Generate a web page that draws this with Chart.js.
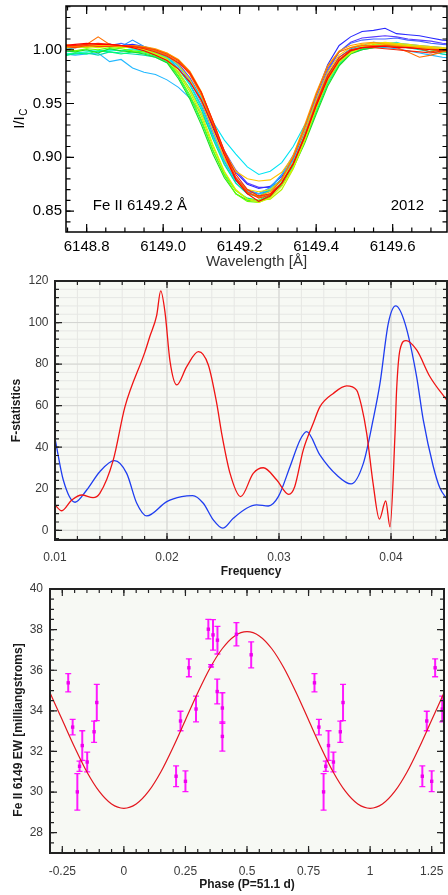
<!DOCTYPE html>
<html>
<head>
<meta charset="utf-8">
<title>Fe II 6149 profiles, periodogram and phased EW</title>
<script src="https://cdn.jsdelivr.net/npm/chart.js@4.4.1/dist/chart.umd.min.js"></script>
<style>
  html, body { margin: 0; padding: 0; background: #fff; }
  body { position: relative; width: 448px; height: 895px; overflow: hidden; }
  canvas { position: absolute; left: 0; }
  #profileChart { top: 0; }
  #periodChart { top: 272px; }
  #phaseChart { top: 580px; }
</style>
</head>
<body>
<canvas id="profileChart" width="448" height="272"></canvas>
<canvas id="periodChart" width="448" height="308"></canvas>
<canvas id="phaseChart" width="448" height="315"></canvas>
<script>
// ---------- Top: Fe II 6149.2 line profiles (2012) ----------
const wavelength = [6148.74, 6148.77, 6148.80, 6148.83, 6148.86, 6148.89, 6148.92, 6148.95, 6148.98, 6149.01,
                    6149.04, 6149.07, 6149.10, 6149.13, 6149.16, 6149.19, 6149.22, 6149.25, 6149.28, 6149.31,
                    6149.34, 6149.37, 6149.40, 6149.43, 6149.46, 6149.49, 6149.52, 6149.55, 6149.58, 6149.61,
                    6149.64, 6149.67, 6149.70, 6149.73, 6149.76];

const profileColors = ['#5a3cff', '#2a2aff', '#4262ff', '#1f90ff', '#22b8ff', '#00e4f4', '#00ffc4', '#00d8b0',
                       '#00ff72', '#22dc22', '#66ff00', '#b2f000', '#d8f000', '#f0e000', '#ffc400', '#ffa000',
                       '#ff7000', '#ff4200', '#ff2400', '#ff0000'];

const profiles = [
  [1.002,1.003,1.004,1.004,1.005,1.004,1.004,1.002,0.999,0.995, 0.987,0.974,0.955,0.930,0.906,0.888,0.876,0.872,0.872,0.879, 0.895,0.920,0.951,0.980,0.998,1.007,1.011,1.012,1.013,1.012, 1.010,1.009,1.008,1.006,1.005],
  [1.003,1.004,1.005,1.004,1.005,1.004,1.005,1.003,1.000,0.995, 0.986,0.972,0.953,0.927,0.903,0.886,0.875,0.871,0.873,0.882, 0.899,0.926,0.958,0.986,1.004,1.012,1.017,1.018,1.020,1.015, 1.014,1.013,1.011,1.009,1.008],
  [1.001,1.003,1.004,1.005,1.004,1.006,1.003,1.001,0.999,0.995, 0.985,0.971,0.951,0.924,0.899,0.881,0.870,0.866,0.869,0.880, 0.898,0.924,0.955,0.982,0.998,1.006,1.009,1.010,1.010,1.011, 1.009,1.008,1.006,1.005,1.004],
  [1.000,1.002,1.003,1.003,1.005,1.003,1.009,1.003,0.998,0.993, 0.983,0.968,0.948,0.921,0.896,0.878,0.868,0.866,0.872,0.884, 0.902,0.926,0.953,0.977,0.993,1.001,1.004,1.007,1.006,1.006, 1.005,1.004,1.003,1.002,1.000],
  [0.996,0.995,0.996,0.997,0.989,0.991,0.983,0.979,0.977,0.972, 0.965,0.955,0.941,0.920,0.897,0.879,0.869,0.866,0.871,0.884, 0.897,0.918,0.944,0.970,0.989,0.998,1.001,1.003,1.002,1.001, 0.999,0.997,0.995,0.993,0.992],
  [0.998,0.999,1.000,0.998,1.000,0.999,1.001,0.999,0.997,0.993, 0.985,0.972,0.955,0.933,0.916,0.903,0.891,0.884,0.887,0.895, 0.910,0.930,0.950,0.970,0.987,0.997,1.002,1.004,1.005,1.007, 1.004,1.001,0.998,0.996,0.994],
  [0.996,0.997,0.998,0.999,1.000,0.999,1.000,0.999,0.996,0.992, 0.982,0.967,0.946,0.919,0.894,0.876,0.866,0.863,0.869,0.878, 0.893,0.917,0.945,0.971,0.989,1.000,1.003,1.004,1.006,1.005, 1.004,1.003,1.001,0.999,0.998],
  [0.995,0.996,0.997,0.995,0.998,0.997,0.996,0.995,0.993,0.988, 0.979,0.964,0.944,0.917,0.893,0.876,0.866,0.864,0.870,0.880, 0.895,0.918,0.946,0.972,0.989,0.997,1.000,1.002,1.003,1.003, 1.002,1.000,0.998,0.996,0.995],
  [0.994,0.997,0.996,0.999,0.998,0.996,0.998,0.997,0.994,0.989, 0.975,0.956,0.933,0.906,0.884,0.869,0.862,0.860,0.866,0.876, 0.892,0.915,0.942,0.968,0.986,0.997,1.001,1.003,1.004,1.004, 1.003,1.002,1.000,0.998,0.997],
  [0.999,0.998,1.000,0.997,1.001,0.999,0.998,0.996,0.993,0.988, 0.973,0.954,0.930,0.903,0.881,0.866,0.860,0.859,0.865,0.874, 0.890,0.913,0.940,0.966,0.985,0.996,1.000,1.002,1.004,1.003, 1.002,1.002,1.001,1.000,0.999],
  [1.001,0.999,1.001,1.000,1.002,1.001,0.999,0.998,0.995,0.990, 0.976,0.958,0.935,0.907,0.883,0.866,0.859,0.858,0.863,0.876, 0.895,0.921,0.950,0.975,0.991,0.998,1.002,1.004,1.003,1.004, 1.003,1.001,1.000,0.999,0.998],
  [1.002,1.003,1.002,1.004,1.003,1.002,1.003,1.001,0.997,0.992, 0.978,0.961,0.938,0.910,0.886,0.869,0.861,0.860,0.861,0.870, 0.889,0.915,0.945,0.971,0.988,0.997,1.002,1.005,1.006,1.005, 1.004,1.002,1.001,1.000,1.000],
  [1.002,1.002,1.003,1.002,1.003,1.003,1.002,1.000,0.996,0.991, 0.980,0.963,0.941,0.912,0.887,0.870,0.861,0.858,0.862,0.873, 0.890,0.916,0.946,0.972,0.989,0.997,1.002,1.004,1.005,1.005, 1.004,1.003,1.002,1.001,1.000],
  [1.003,1.004,1.003,1.004,1.004,1.003,1.002,1.002,0.999,0.995, 0.986,0.972,0.952,0.925,0.899,0.880,0.870,0.868,0.870,0.879, 0.895,0.920,0.949,0.974,0.991,0.999,1.003,1.006,1.007,1.006, 1.005,1.004,1.003,1.002,1.001],
  [1.004,1.004,1.005,1.004,1.003,1.004,1.003,1.002,1.000,0.997, 0.990,0.977,0.957,0.931,0.905,0.887,0.880,0.878,0.879,0.886, 0.901,0.925,0.953,0.979,0.995,1.002,1.005,1.006,1.006,1.005, 1.003,1.003,1.002,1.001,1.001],
  [1.005,1.004,1.003,1.005,1.004,1.003,1.004,1.003,1.001,0.997, 0.991,0.980,0.961,0.933,0.904,0.880,0.867,0.864,0.868,0.879, 0.902,0.930,0.960,0.985,0.999,1.004,1.006,1.007,1.005,1.004, 1.003,1.002,1.001,1.000,1.000],
  [1.003,1.003,1.005,1.012,1.005,1.004,1.004,1.002,0.999,0.995, 0.989,0.977,0.958,0.931,0.903,0.880,0.867,0.863,0.866,0.880, 0.900,0.928,0.958,0.984,0.998,1.002,1.004,1.004,1.004,1.002, 0.998,0.993,0.995,0.998,0.999],
  [1.003,1.002,1.004,1.003,1.003,1.004,1.003,1.002,1.000,0.996, 0.990,0.979,0.960,0.933,0.905,0.881,0.868,0.862,0.865,0.876, 0.894,0.919,0.948,0.974,0.991,0.999,1.002,1.003,1.004,1.003, 1.002,1.001,0.998,1.000,1.001],
  [1.004,1.004,1.005,1.006,1.005,1.004,1.003,1.001,0.998,0.994, 0.988,0.978,0.960,0.934,0.906,0.884,0.870,0.864,0.866,0.876, 0.894,0.920,0.950,0.976,0.993,1.000,1.002,1.002,1.001,1.000, 0.999,0.998,0.997,0.999,1.000],
  [1.004,1.005,1.006,1.005,1.005,1.004,1.002,0.999,0.995,0.990, 0.982,0.970,0.953,0.929,0.902,0.879,0.866,0.859,0.864,0.876, 0.894,0.919,0.948,0.973,0.990,0.999,1.002,1.003,1.003,1.002, 1.002,1.001,1.000,1.000,1.000]
];

const profileXTicks = [6148.8, 6149.0, 6149.2, 6149.4, 6149.6];
const profileYTicks = [0.85, 0.90, 0.95, 1.00];
const lineName = 'Fe II 6149.2 Å';
const seasonName = '2012';

// ---------- Middle: F-statistics periodogram ----------
const redFreq = [0.0100, 0.0106, 0.0115, 0.0124, 0.0134, 0.0140, 0.0152, 0.01625, 0.01804, 0.01848,
                 0.01908, 0.01944, 0.01982, 0.02027, 0.02087, 0.02176, 0.02280, 0.02369, 0.02444, 0.02488,
                 0.02563, 0.02658, 0.02770, 0.02860, 0.02980, 0.03087, 0.03140, 0.03217, 0.03306, 0.03366,
                 0.03485, 0.03604, 0.03693, 0.03738, 0.03783, 0.03840, 0.03896, 0.03953, 0.03991, 0.04036,
                 0.04050, 0.04080, 0.04134, 0.04229, 0.04348, 0.04500];
const redF = [12.2, 9.4, 14.6, 17.0, 15.7, 17.8, 33.8, 59.5, 86.0, 93.5,
              103.5, 115.2, 105.0, 81.3, 70.0, 78.8, 86.0, 79.6, 61.1, 46.7,
              27.4, 16.2, 27.4, 30.1, 24.2, 17.3, 21.0, 38.7, 51.5, 59.5,
              65.9, 69.5, 67.5, 59.5, 46.7, 22.6, 5.4, 14.1, 1.7, 46.7,
              67.5, 86.8, 91.3, 86.8, 73.9, 62.5];

const blueFreq = [0.0100, 0.01074, 0.01179, 0.01283, 0.0140, 0.0153, 0.0164, 0.0173, 0.01819, 0.01998,
                  0.02131, 0.02229, 0.02324, 0.02413, 0.02497, 0.02592, 0.02711, 0.0280, 0.02904, 0.02994,
                  0.03098, 0.03188, 0.03247, 0.03366, 0.03515, 0.03643, 0.03753, 0.0384, 0.03902, 0.03976,
                  0.04042, 0.04125, 0.04229, 0.04288, 0.04378, 0.04438, 0.04500];
const blueF = [44.3, 24.2, 13.5, 19.4, 28.2, 33.5, 27.4, 13.0, 6.9, 13.8,
               16.2, 16.7, 13.0, 5.0, 1.0, 5.8, 10.6, 12.2, 11.7, 16.2,
               30.6, 43.5, 47.5, 36.2, 26.6, 22.3, 32.2, 53.1, 70.8, 99.6,
               108.0, 99.6, 73.9, 53.1, 30.6, 20.2, 15.0];

const periodXTicks = [0.01, 0.02, 0.03, 0.04];
const periodYTicks = [0, 20, 40, 60, 80, 100, 120];

// ---------- Bottom: Fe II 6149 EW folded on P = 51.1 d ----------
const obsPhase = [0.774, 0.792, 0.811, 0.820, 0.831, 0.851, 0.879, 0.890,
                  0.212, 0.230, 0.250, 0.264, 0.293, 0.343, 0.354, 0.362,
                  0.380, 0.379, 0.400, 0.400, 0.457, 0.517];
const obsEW = [35.38, 33.20, 30.01, 31.27, 32.29, 31.48, 32.97, 34.41,
               30.78, 33.50, 30.53, 36.12, 34.09, 38.02, 36.22, 37.74,
               37.48, 34.95, 34.14, 32.74, 37.77, 36.76];
const obsErr = [0.45, 0.38, 0.90, 0.25, 0.73, 0.49, 0.52, 0.89,
                0.51, 0.48, 0.51, 0.44, 0.63, 0.48, 0.06, 0.75,
                0.68, 0.61, 0.75, 0.72, 0.57, 0.64];

const fitPhase = [-0.30, -0.25, -0.20, -0.15, -0.10, -0.05, 0.00, 0.05, 0.10, 0.15, 0.20,
                  0.25, 0.30, 0.35, 0.40, 0.45, 0.50, 0.55, 0.60, 0.65, 0.70, 0.75,
                  0.80, 0.85, 0.90, 0.95, 1.00, 1.05, 1.10, 1.15, 1.20, 1.25, 1.30];
const fitEW = [34.89, 33.55, 32.21, 30.99, 30.03, 29.41, 29.20, 29.41, 30.03, 30.99, 32.21,
               33.55, 34.89, 36.11, 37.07, 37.69, 37.90, 37.69, 37.07, 36.11, 34.89, 33.55,
               32.21, 30.99, 30.03, 29.41, 29.20, 29.41, 30.03, 30.99, 32.21, 33.55, 34.89];

const phaseXTicks = [-0.25, 0, 0.25, 0.5, 0.75, 1, 1.25];
const phaseYTicks = [28, 30, 32, 34, 36, 38, 40];
const ewTitle = 'Fe II 6149 EW [milliangstroms]';

// ---------- helpers ----------
const FONT = '"Liberation Sans", Arial, Helvetica, sans-serif';
Chart.defaults.font.family = FONT;

function range(start, stop, step) {
  const out = [];
  const n = Math.round((stop - start) / step);
  for (let i = 0; i <= n; i++) out.push(+(start + i * step).toFixed(6));
  return out;
}

// box around the plot, inward ticks on all four sides, optional background + grid
function boxFrame(cfg) {
  return {
    id: 'boxFrame',
    beforeDatasetsDraw(chart) {
      const {ctx, chartArea: a} = chart;
      const xs = chart.scales.x, ys = chart.scales.y;
      ctx.save();
      if (cfg.background) {
        ctx.fillStyle = cfg.background;
        ctx.fillRect(a.left, a.top, a.right - a.left, a.bottom - a.top);
      }
      if (cfg.grid) {
        ctx.lineWidth = 1;
        const drawLines = (xv, yv, color) => {
          ctx.strokeStyle = color;
          ctx.beginPath();
          xv.forEach(v => {
            const px = xs.getPixelForValue(v);
            if (px <= a.left || px >= a.right) return;
            ctx.moveTo(px, a.top); ctx.lineTo(px, a.bottom);
          });
          yv.forEach(v => {
            const py = ys.getPixelForValue(v);
            if (py <= a.top || py >= a.bottom) return;
            ctx.moveTo(a.left, py); ctx.lineTo(a.right, py);
          });
          ctx.stroke();
        };
        drawLines(cfg.xMinor, cfg.yMinor, cfg.grid.minor);
        drawLines(cfg.xMajor, cfg.yMajor, cfg.grid.major);
      }
      ctx.restore();
    },
    afterDatasetsDraw(chart) {
      const {ctx, chartArea: a} = chart;
      const xs = chart.scales.x, ys = chart.scales.y;
      ctx.save();
      ctx.strokeStyle = cfg.color;
      ctx.lineWidth = cfg.tickWidth || 1;
      const tick = (vals, len, horiz) => {
        ctx.beginPath();
        vals.forEach(v => {
          if (horiz) {
            const px = xs.getPixelForValue(v);
            if (px < a.left - 0.5 || px > a.right + 0.5) return;
            ctx.moveTo(px, a.bottom); ctx.lineTo(px, a.bottom - len);
            ctx.moveTo(px, a.top); ctx.lineTo(px, a.top + len);
          } else {
            const py = ys.getPixelForValue(v);
            if (py < a.top - 0.5 || py > a.bottom + 0.5) return;
            ctx.moveTo(a.left, py); ctx.lineTo(a.left + len, py);
            ctx.moveTo(a.right, py); ctx.lineTo(a.right - len, py);
          }
        });
        ctx.stroke();
      };
      tick(cfg.xMinor, cfg.minorLen, true);
      tick(cfg.yMinor, cfg.minorLen, false);
      tick(cfg.xMajor, cfg.majorLen, true);
      tick(cfg.yMajor, cfg.majorLen, false);
      ctx.lineWidth = cfg.lineWidth;
      ctx.strokeRect(a.left, a.top, a.right - a.left, a.bottom - a.top);
      ctx.restore();
    }
  };
}

function fixedTicks(values) {
  return scale => { scale.ticks = values.map(v => ({value: v})); };
}

// pin the axis box size and drop the label overhang so the plot area stays put
function pinSize(prop, size) {
  return scale => {
    scale[prop] = size;
    scale.paddingTop = 0; scale.paddingBottom = 0;
    scale.paddingLeft = 0; scale.paddingRight = 0;
  };
}

const hiddenGrid = {display: false, drawTicks: false};

// ---------- chart 1: line profiles ----------
const profileText = {
  id: 'profileText',
  afterDraw(chart) {
    const {ctx, chartArea: a} = chart;
    const xs = chart.scales.x, ys = chart.scales.y;
    ctx.save();
    ctx.fillStyle = '#000';
    ctx.font = '15px ' + FONT;
    ctx.textBaseline = 'middle';
    ctx.textAlign = 'left';
    ctx.fillText(lineName, xs.getPixelForValue(6148.816), ys.getPixelForValue(0.8548));
    ctx.textAlign = 'right';
    ctx.fillText(seasonName, xs.getPixelForValue(6149.682), ys.getPixelForValue(0.8548));

    // rotated axis label I/I_C
    ctx.translate(18, (a.top + a.bottom) / 2);
    ctx.rotate(-Math.PI / 2);
    ctx.textAlign = 'left';
    ctx.textBaseline = 'alphabetic';
    ctx.font = '15px ' + FONT;
    const wMain = ctx.measureText('I/I').width;
    ctx.font = '10px ' + FONT;
    const wSub = ctx.measureText('C').width;
    const x0 = -(wMain + wSub) / 2;
    ctx.font = '15px ' + FONT;
    ctx.fillText('I/I', x0, 6);
    ctx.font = '10px ' + FONT;
    ctx.fillText('C', x0 + wMain + 0.5, 9);
    ctx.restore();
  }
};

new Chart(document.getElementById('profileChart'), {
  type: 'line',
  data: {
    datasets: profiles.map((flux, k) => ({
      data: flux.map((v, i) => ({x: wavelength[i], y: v})),
      borderColor: profileColors[k],
      borderWidth: 1.1,
      pointRadius: 0,
      tension: 0,
      order: profiles.length - 1 - k   // red spectra end up on top
    }))
  },
  options: {
    responsive: false,
    devicePixelRatio: 1,
    animation: false,
    layout: {padding: {top: 6, right: 1, left: 0, bottom: 0}},
    plugins: {legend: {display: false}, tooltip: {enabled: false}},
    scales: {
      x: {
        type: 'linear', min: 6148.746, max: 6149.742, bounds: 'data',
        grid: hiddenGrid, border: {display: false},
        afterBuildTicks: fixedTicks(profileXTicks),
        afterFit: pinSize('height', 40),
        ticks: {padding: 6, color: '#000', font: {size: 15}, maxRotation: 0, autoSkip: false,
                callback: v => Number(v).toFixed(1)},
        title: {display: true, text: 'Wavelength [Å]', color: '#333', font: {size: 15}, padding: {top: 0, bottom: 1}}
      },
      y: {
        type: 'linear', min: 0.8305, max: 1.0407, bounds: 'data',
        grid: hiddenGrid, border: {display: false},
        afterBuildTicks: fixedTicks(profileYTicks),
        afterFit: pinSize('width', 66),
        ticks: {padding: 4, color: '#000', font: {size: 15}, autoSkip: false,
                callback: v => Number(v).toFixed(2)}
      }
    }
  },
  plugins: [boxFrame({
    color: '#000', lineWidth: 1.5, tickWidth: 1.2, majorLen: 8, minorLen: 4.5,
    xMajor: profileXTicks, xMinor: range(6148.75, 6149.75, 0.05),
    yMajor: profileYTicks, yMinor: range(0.84, 1.04, 0.01)
  }), profileText]
});

// ---------- chart 2: periodogram ----------
new Chart(document.getElementById('periodChart'), {
  type: 'line',
  data: {
    datasets: [
      {
        data: redFreq.map((f, i) => ({x: f, y: redF[i]})),
        borderColor: '#f01414', borderWidth: 1.3, pointRadius: 0,
        cubicInterpolationMode: 'monotone'
      },
      {
        data: blueFreq.map((f, i) => ({x: f, y: blueF[i]})),
        borderColor: '#1f3df0', borderWidth: 1.3, pointRadius: 0,
        cubicInterpolationMode: 'monotone'
      }
    ]
  },
  options: {
    responsive: false,
    devicePixelRatio: 1,
    animation: false,
    layout: {padding: {top: 9, right: 1, left: 0, bottom: 0}},
    plugins: {legend: {display: false}, tooltip: {enabled: false}},
    scales: {
      x: {
        type: 'linear', min: 0.01, max: 0.045, bounds: 'data',
        grid: hiddenGrid, border: {display: false},
        afterBuildTicks: fixedTicks(periodXTicks),
        afterFit: pinSize('height', 40),
        ticks: {padding: 10, color: '#3a3a3a', font: {size: 12}, maxRotation: 0, autoSkip: false,
                callback: v => Number(v).toFixed(2)},
        title: {display: true, text: 'Frequency', color: '#1a1a1a', font: {size: 12, weight: 'bold'},
                padding: {top: 0, bottom: 1}}
      },
      y: {
        type: 'linear', min: -4.67, max: 120, bounds: 'data',
        grid: hiddenGrid, border: {display: false},
        afterBuildTicks: fixedTicks(periodYTicks),
        afterFit: pinSize('width', 55),
        ticks: {padding: 6.5, color: '#3a3a3a', font: {size: 12}, autoSkip: false},
        title: {display: true, text: 'F-statistics', color: '#1a1a1a', font: {size: 12, weight: 'bold'},
                padding: {top: 9, bottom: 0}}
      }
    }
  },
  plugins: [boxFrame({
    color: '#222', lineWidth: 2, tickWidth: 1.2, majorLen: 7, minorLen: 4,
    background: '#f7f9f4', grid: {minor: '#e6e7e4', major: '#d3d4d1'},
    xMajor: periodXTicks, xMinor: range(0.01, 0.044, 0.002),
    yMajor: periodYTicks, yMinor: range(-4, 120, 4)
  })]
});

// ---------- chart 3: phased equivalent widths ----------
// each measurement is shown at phase, phase-1 and phase+1 inside the -0.3..1.3 window
const folded = [];
obsPhase.forEach((p, i) => {
  [p - 1, p, p + 1].forEach(ph => {
    if (ph >= -0.3 && ph <= 1.3) folded.push({x: ph, y: obsEW[i], err: obsErr[i]});
  });
});

const errorBars = {
  id: 'errorBars',
  beforeDatasetsDraw(chart) {
    const {ctx, chartArea: a} = chart;
    const xs = chart.scales.x, ys = chart.scales.y;
    ctx.save();
    ctx.beginPath();
    ctx.rect(a.left, a.top, a.right - a.left, a.bottom - a.top);
    ctx.clip();
    ctx.strokeStyle = 'rgba(255, 0, 255, 0.9)';
    folded.forEach(pt => {
      const px = xs.getPixelForValue(pt.x);
      const top = ys.getPixelForValue(pt.y + pt.err);
      const bot = ys.getPixelForValue(pt.y - pt.err);
      ctx.lineWidth = 2;
      ctx.beginPath();
      ctx.moveTo(px, top); ctx.lineTo(px, bot);
      ctx.stroke();
      ctx.lineWidth = 1.3;
      ctx.beginPath();
      ctx.moveTo(px - 3, top); ctx.lineTo(px + 3, top);
      ctx.moveTo(px - 3, bot); ctx.lineTo(px + 3, bot);
      ctx.stroke();
    });
    ctx.restore();
  }
};

// y title drawn by hand so it can sit a little below the plot centre
const ewAxisTitle = {
  id: 'ewAxisTitle',
  afterDraw(chart) {
    const {ctx, chartArea: a} = chart;
    ctx.save();
    ctx.translate(19, (a.top + a.bottom) / 2 + 9);
    ctx.rotate(-Math.PI / 2);
    ctx.font = 'bold 12px ' + FONT;
    ctx.fillStyle = '#1a1a1a';
    ctx.textAlign = 'center';
    ctx.textBaseline = 'middle';
    ctx.fillText(ewTitle, 0, 0);
    ctx.restore();
  }
};

new Chart(document.getElementById('phaseChart'), {
  type: 'scatter',
  data: {
    datasets: [
      {
        data: folded,
        pointStyle: 'rect', pointRadius: 2.4, borderWidth: 0,
        backgroundColor: '#ee00ee', showLine: false
      },
      {
        type: 'line',
        data: fitPhase.map((p, i) => ({x: p, y: fitEW[i]})),
        borderColor: '#e3161e', borderWidth: 1.2, pointRadius: 0,
        cubicInterpolationMode: 'monotone'
      }
    ]
  },
  options: {
    responsive: false,
    devicePixelRatio: 1,
    animation: false,
    layout: {padding: {top: 9, right: 0, left: 0, bottom: 0}},
    plugins: {legend: {display: false}, tooltip: {enabled: false}},
    scales: {
      x: {
        type: 'linear', min: -0.3, max: 1.3, bounds: 'data',
        grid: hiddenGrid, border: {display: false},
        afterBuildTicks: fixedTicks(phaseXTicks),
        afterFit: pinSize('height', 42),
        ticks: {padding: 11, color: '#3a3a3a', font: {size: 12}, maxRotation: 0, autoSkip: false,
                callback: v => String(v)},
        title: {display: true, text: 'Phase (P=51.1 d)', color: '#1a1a1a', font: {size: 12, weight: 'bold'},
                padding: {top: 0, bottom: 3}}
      },
      y: {
        type: 'linear', min: 27, max: 40, bounds: 'data',
        grid: hiddenGrid, border: {display: false},
        afterBuildTicks: fixedTicks(phaseYTicks),
        afterFit: pinSize('width', 50),
        ticks: {padding: 7, color: '#3a3a3a', font: {size: 12}, autoSkip: false}
      }
    }
  },
  plugins: [boxFrame({
    color: '#222', lineWidth: 2, tickWidth: 1.2, majorLen: 7, minorLen: 4,
    background: '#f7f9f4',
    xMajor: phaseXTicks, xMinor: range(-0.3, 1.3, 0.05),
    yMajor: phaseYTicks, yMinor: range(27, 40, 0.5)
  }), errorBars, ewAxisTitle]
});
</script>
</body>
</html>
